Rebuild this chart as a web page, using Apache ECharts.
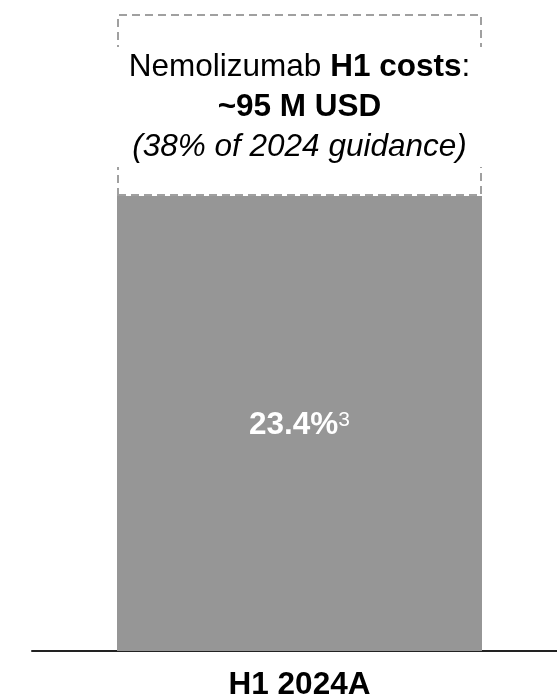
<!DOCTYPE html>
<html>
<head>
<meta charset="utf-8">
<script src="https://cdn.jsdelivr.net/npm/echarts@6/dist/echarts.min.js"></script>
<style>
    html, body { margin: 0; padding: 0; background: #fff; }
    #bar_chart { width: 557px; height: 697px; }
</style>
</head>
<body>
<div id="bar_chart"></div>
<script>
    const categories = ["H1 2024A"]
    const h1_costs = [95]
    const guidance_rest = [38]
    const share_label = "23.4%"
    const share_note = "3"

    let bar_chart = echarts.init(document.getElementById("bar_chart"));

    const font_name = "Liberation Sans, Arial, sans-serif"

    let bar_chart_option = {
        animation: false,
        textStyle: {fontFamily: font_name},
        grid: [
            {left: 42, right: 0, top: 14, bottom: 46, outerBoundsMode: 'none'},
            {left: 32, right: 0, top: 14, bottom: 46, outerBoundsMode: 'none'}
        ],
        xAxis: [
            {
                type: 'category',
                gridIndex: 0,
                data: categories,
                axisLine: {show: false},
                axisTick: {show: false},
                axisLabel: {
                    margin: 18,
                    fontSize: 31.5,
                    fontWeight: 'bold',
                    color: '#000',
                    fontFamily: font_name
                }
            },
            {
                type: 'category',
                gridIndex: 1,
                data: categories,
                axisLine: {show: true, lineStyle: {color: '#222', width: 2}},
                axisTick: {show: false},
                axisLabel: {show: false}
            }
        ],
        yAxis: [
            {type: 'value', gridIndex: 0, min: 0, max: 133, show: false},
            {type: 'value', gridIndex: 1, min: 0, max: 133, show: false}
        ],
        series: [
            {
                type: 'bar',
                stack: 'total',
                barWidth: 365,
                data: h1_costs,
                itemStyle: {color: '#969696'},
                label: {
                    show: true,
                    position: 'inside',
                    offset: [0, 2],
                    formatter: '{a|' + share_label + '}{s|' + share_note + '}',
                    rich: {
                        a: {fontSize: 31.5, fontWeight: 'bold', color: '#fff', fontFamily: font_name, lineHeight: 32},
                        s: {fontSize: 21, color: '#fff', fontFamily: font_name, lineHeight: 22, verticalAlign: 'top'}
                    }
                }
            },
            {
                type: 'bar',
                stack: 'total',
                barWidth: 365,
                data: guidance_rest,
                itemStyle: {
                    color: 'rgba(255,255,255,0)',
                    borderColor: '#a0a0a0',
                    borderWidth: 2,
                    borderType: [8, 5]
                },
                label: {
                    show: true,
                    position: 'inside',
                    offset: [0, 2],
                    fontSize: 31.5,
                    color: '#000',
                    lineHeight: 40,
                    fontFamily: font_name,
                    backgroundColor: '#fff',
                    padding: [0, 30],
                    formatter: 'Nemolizumab {b|H1 costs}:\n{b|~95 M USD}\n{i|(38% of 2024 guidance)}',
                    rich: {
                        b: {fontSize: 31.5, fontWeight: 'bold', color: '#000', fontFamily: font_name, lineHeight: 40},
                        i: {fontSize: 31.5, fontStyle: 'italic', color: '#000', fontFamily: font_name, lineHeight: 40}
                    }
                }
            }
        ]
    };

    bar_chart.setOption(bar_chart_option);
</script>
</body>
</html>
